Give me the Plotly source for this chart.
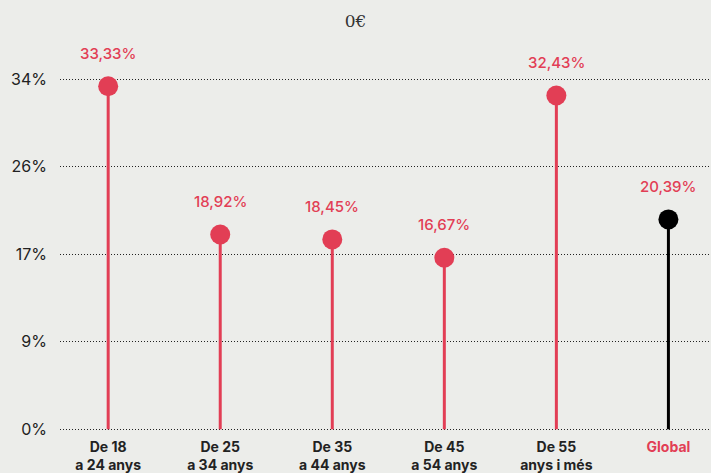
import plotly.graph_objects as go

categories = ["De 18<br>a 24 anys", "De 25<br>a 34 anys", "De 35<br>a 44 anys",
              "De 45<br>a 54 anys", "De 55<br>anys i més", "Global"]
values = [33.33, 18.92, 18.45, 16.67, 32.43, 20.39]
value_labels = ["33,33%", "18,92%", "18,45%", "16,67%", "32,43%", "20,39%"]
y_tick_vals = [0, 8.5, 17, 25.5, 34]
y_tick_text = ["0%", "9%", "17%", "26%", "34%"]
title_text = "0€"

RED = "#e23e55"
BLACK = "#000000"
BG = "#ecedea"

colors = [RED] * 5 + [BLACK]
xs = list(range(len(categories)))

fig = go.Figure()

for i, (v, c) in enumerate(zip(values, colors)):
    fig.add_trace(go.Scatter(x=[i, i], y=[0, v], mode="lines",
                             line=dict(color=c, width=3), hoverinfo="skip",
                             showlegend=False))

fig.add_trace(go.Scatter(x=xs, y=values, mode="markers",
                         marker=dict(color=colors, size=20, line=dict(width=0)),
                         showlegend=False))

for i, (v, t) in enumerate(zip(values, value_labels)):
    fig.add_annotation(x=i, y=v, text=t, showarrow=False, yshift=33,
                       font=dict(family="Inter", size=15, color=RED, weight=500))

ticktext = [c if c != "Global" else f'<span style="color:{RED}">{c}</span>' for c in categories]

fig.update_layout(
    width=711, height=473,
    paper_bgcolor=BG, plot_bgcolor=BG,
    margin=dict(l=60, r=0, t=40, b=40),
    title=dict(text=title_text, x=0.5, xanchor="center", y=0.955, yanchor="middle",
               font=dict(family="DejaVu Serif", size=17, color="#333333")),
    xaxis=dict(range=[-0.43, 5.38], tickmode="array", tickvals=xs, ticktext=ticktext,
               showgrid=False, zeroline=False, showline=False, ticks="",
               ticklabelstandoff=4, automargin=False,
               tickfont=dict(family="Inter", size=14, color="#222222", weight="bold")),
    yaxis=dict(range=[-0.36, 37.82], tickmode="array", tickvals=y_tick_vals,
               ticktext=y_tick_text, showgrid=True, gridcolor="#222222", gridwidth=1,
               griddash="1px,2px", zeroline=False, showline=False, ticks="",
               ticklabelstandoff=12, automargin=False,
               tickfont=dict(family="Inter", size=16, color="#222222")),
)

fig.write_html("out.html", config={"displayModeBar": False},
               post_script="document.body.style.margin='0';")
